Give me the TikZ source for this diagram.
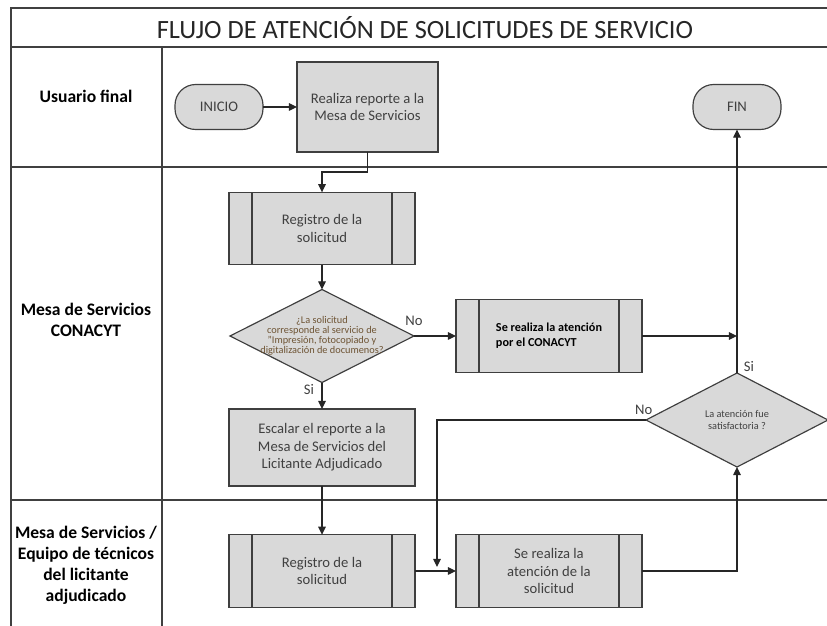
\documentclass[tikz,border=0pt]{standalone}
\usepackage{fontspec}
\setmainfont{Carlito}
\usepackage{tikz}
\usetikzlibrary{shapes.geometric,arrows.meta}
\definecolor{gris}{HTML}{D9D9D9}
\definecolor{borde}{HTML}{3F3F3F}
\definecolor{texto}{HTML}{404040}
\definecolor{marron}{HTML}{6E5434}

\begin{document}
\begin{tikzpicture}[x=0.03cm,y=-0.03cm,>={Triangle[length=7pt,width=6.5pt]},
	linea/.style={line width=1.2pt,draw=black!75},
	caja/.style={draw=borde,fill=gris,line width=1pt,outer sep=0pt,align=center,text=texto,font=\fontsize{12.5}{15}\selectfont},
	bloque/.style={caja,minimum width=5.58cm,minimum height=2.17cm},
	terminal/.style={caja,rounded corners=0.62cm,minimum width=2.64cm,minimum height=1.35cm},
	decision/.style={caja,shape=diamond,inner sep=0pt},
	carril/.style={align=center,font=\fontsize{15}{18}\selectfont\bfseries},
	rotulo/.style={text=texto,font=\fontsize{12.5}{15}\selectfont},
	flecha/.style={->,line width=1pt,draw=black!85}]
	\useasboundingbox (0,0) rectangle (827,626);
	\draw[linea] (827,8) -- (11,8) -- (11,626);
	\draw[linea] (11,47) -- (827,47);
	\draw[linea] (11,167) -- (827,167);
	\draw[linea] (11,500) -- (827,500);
	\draw[linea] (162,47) -- (162,626);
	
	\node[font=\fontsize{22.5}{27}\selectfont,text=black!85] (titulo) at (425,28) {FLUJO DE ATENCIÓN DE SOLICITUDES DE SERVICIO};
	\node[carril] (usuario) at (86,96) {Usuario final};
	\node[carril] (mesa) at (86,320) {Mesa de Servicios\\CONACYT};
	\node[carril] (equipo) at (86,565) {Mesa de Servicios /\\Equipo de técnicos\\del licitante\\adjudicado};
	
	\node[terminal] (inicio) at (219,107) {INICIO};
	\node[caja,minimum width=4.23cm,minimum height=2.7cm] (reporte) at (367.5,107) {Realiza reporte a la\\Mesa de Servicios};
	\node[terminal] (fin) at (737,107) {FIN};
	\node[bloque] (registro) at (322,228.5) {Registro de la\\solicitud};
	\node[decision,minimum width=5.52cm,minimum height=2.79cm] (pregunta) at (322,336) {};
	\node[text=marron,align=center,font=\fontsize{8.8}{8.4}\selectfont] (textopregunta) at (pregunta) {¿La solicitud\\corresponde al servicio de\\"Impresión, fotocopiado y\\digitalización de documenos?};
	\node[bloque,text=black,font=\fontsize{10.4}{12.5}\selectfont\bfseries,align=left] (conacyt) at (549,336) {Se realiza la atención\\por el CONACYT};
	\node[caja,minimum width=5.58cm,minimum height=2.31cm] (escalar) at (322,447.5) {Escalar el reporte a la\\Mesa de Servicios del\\Licitante Adjudicado};
	\node[bloque] (registro2) at (322,571) {Registro de la\\solicitud};
	\node[bloque] (atencion) at (549,571) {Se realiza la\\atención de la\\solicitud};
	\node[decision,minimum width=5.46cm,minimum height=2.82cm] (satisfecho) at (737,420) {};
	\node[text=texto,align=center,font=\fontsize{8.8}{10.5}\selectfont] (textosatisfecho) at (satisfecho) {La atención fue\\satisfactoria ?};
	\coordinate (retorno) at (437,567);
	
	\foreach \n in {registro,conacyt,registro2,atencion}{
		\draw[borde,line width=1pt] ([xshift=0.69cm]\n.north west) -- ([xshift=0.69cm]\n.south west);
		\draw[borde,line width=1pt] ([xshift=-0.69cm]\n.north east) -- ([xshift=-0.69cm]\n.south east);
	}
	
	\draw[flecha] (inicio) -- (reporte);
	\draw[flecha] (reporte.south) -- ++(0,20) -| (registro.north);
	\draw[flecha] (registro) -- (pregunta);
	\draw[flecha] (pregunta) -- node[pos=0,above=5pt,rotulo]{No} (conacyt);
	\draw[flecha] (conacyt) -- (conacyt -| fin);
	\draw[flecha] (satisfecho) -- node[pos=0,anchor=south west,xshift=2pt,yshift=-3pt,rotulo]{Si} (fin);
	\draw[flecha] (pregunta) -- node[pos=.26,left,xshift=-3pt,rotulo]{Si} (escalar);
	\draw[flecha] (escalar) -- (registro2);
	\draw[flecha] (registro2) -- (atencion);
	\draw[flecha] (atencion) -| (satisfecho);
	\draw[flecha] (satisfecho) -| node[pos=0,anchor=south,xshift=-2pt,yshift=1pt,rotulo]{No} (retorno);
\end{tikzpicture}
\end{document}
